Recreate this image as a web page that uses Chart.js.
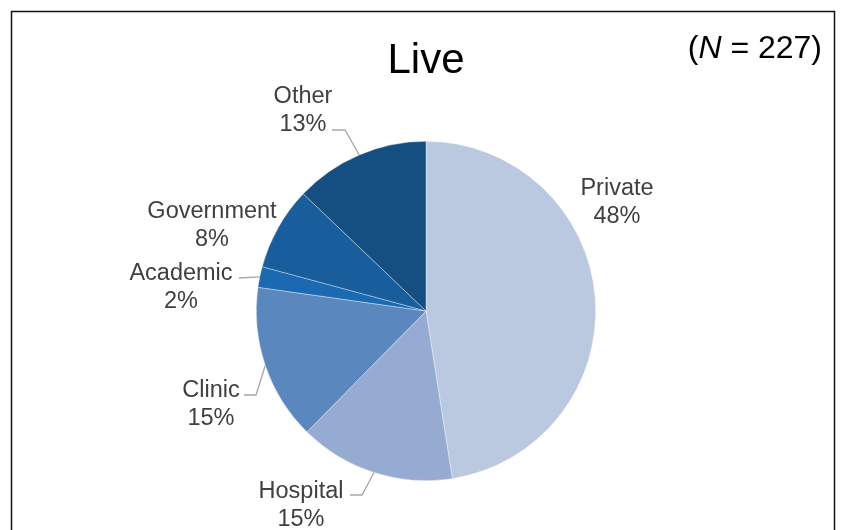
<!DOCTYPE html>
<html>
<head>
<meta charset="utf-8">
<title>Live</title>
<script src="https://cdn.jsdelivr.net/npm/chart.js@4/dist/chart.umd.min.js"></script>
<style>
  html, body { margin: 0; padding: 0; background: #ffffff; }
  #wrap { width: 841px; height: 530px; }
</style>
</head>
<body>
<div id="wrap"><canvas id="pie" width="841" height="530"></canvas></div>
<script>
// Employment setting of respondents (percent of N = 227)
const categories = ['Private', 'Hospital', 'Clinic', 'Academic', 'Government', 'Other'];
const percents = [48, 15, 15, 2, 8, 13];
const sliceColors = ['#BAC8E0', '#96ABD2', '#5B87BF', '#1B6AB1', '#195E9C', '#154F82'];
const titleText = 'Live';
const sampleSize = 227;

// Where each two-line label sits (centre x, first-line baseline) and,
// for labels that need one, the elbow and end of the leader line.
const labelLayout = [
  { x: 617, y: 195 },
  { x: 301, y: 498, elbow: [362, 495], end: [350, 495] },
  { x: 211, y: 397, elbow: [256, 395], end: [244, 395] },
  { x: 181, y: 280, elbow: null, end: [239, 278] },
  { x: 212, y: 218 },
  { x: 303, y: 103, elbow: [345, 130], end: [332, 130] }
];

const FONT = '"Liberation Sans", Arial, Helvetica, sans-serif';

const decorations = {
  id: 'decorations',
  afterDraw(chart) {
    const ctx = chart.ctx;
    ctx.save();

    // frame
    ctx.strokeStyle = '#111111';
    ctx.lineWidth = 1.5;
    ctx.strokeRect(11.5, 11.5, 823, 560);

    // title
    ctx.fillStyle = '#000000';
    ctx.textAlign = 'center';
    ctx.textBaseline = 'alphabetic';
    ctx.font = '42px ' + FONT;
    ctx.fillText(titleText, 426, 73);

    // sample size, with italic N
    const parts = [
      { t: '(', f: '32px ' + FONT },
      { t: 'N', f: 'italic 32px ' + FONT },
      { t: ' = ' + sampleSize + ')', f: '32px ' + FONT }
    ];
    let total = 0;
    parts.forEach(p => { ctx.font = p.f; p.w = ctx.measureText(p.t).width; total += p.w; });
    let px = 822 - total;
    ctx.textAlign = 'left';
    parts.forEach(p => { ctx.font = p.f; ctx.fillText(p.t, px, 58); px += p.w; });

    // leader lines from the middle of each slice's outer edge
    const meta = chart.getDatasetMeta(0);
    ctx.strokeStyle = '#A6A6A6';
    ctx.lineWidth = 1.3;
    meta.data.forEach((arc, i) => {
      const lay = labelLayout[i];
      if (!lay.end) return;
      const p = arc.getProps(['x', 'y', 'startAngle', 'endAngle', 'outerRadius'], true);
      const mid = (p.startAngle + p.endAngle) / 2;
      const sx = p.x + Math.cos(mid) * p.outerRadius;
      const sy = p.y + Math.sin(mid) * p.outerRadius;
      ctx.beginPath();
      ctx.moveTo(sx, sy);
      if (lay.elbow) ctx.lineTo(lay.elbow[0], lay.elbow[1]);
      ctx.lineTo(lay.end[0], lay.end[1]);
      ctx.stroke();
    });

    // category + percent labels
    ctx.fillStyle = '#404040';
    ctx.textAlign = 'center';
    ctx.font = '23.5px ' + FONT;
    categories.forEach((name, i) => {
      const lay = labelLayout[i];
      ctx.fillText(name, lay.x, lay.y);
      ctx.fillText(percents[i] + '%', lay.x, lay.y + 27.5);
    });

    ctx.restore();
  }
};

new Chart(document.getElementById('pie'), {
  type: 'pie',
  data: {
    labels: categories,
    datasets: [{
      data: percents,
      backgroundColor: sliceColors,
      borderColor: 'rgba(255,255,255,0.6)',
      borderWidth: 0.6
    }]
  },
  options: {
    responsive: false,
    devicePixelRatio: 1,
    animation: false,
    layout: { padding: { top: 141, bottom: 49, left: 256, right: 245 } },
    plugins: {
      legend: { display: false },
      tooltip: { enabled: false },
      title: { display: false }
    }
  },
  plugins: [decorations]
});
</script>
</body>
</html>
